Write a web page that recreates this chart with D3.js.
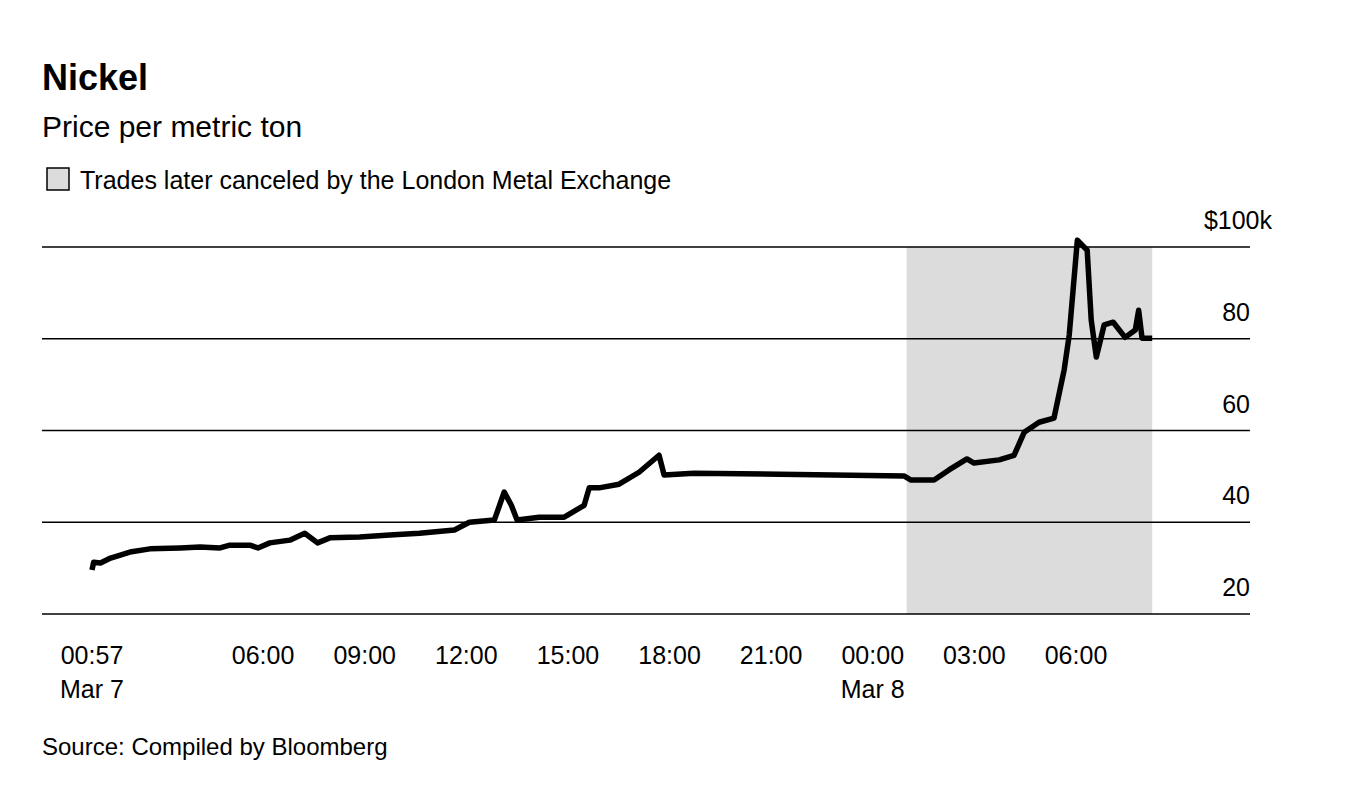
<!DOCTYPE html>
<html><head><meta charset="utf-8">
<script src="https://cdn.jsdelivr.net/npm/d3@7"></script>
<style>body{margin:0;background:#fff;font-family:"Liberation Sans",Arial,sans-serif}</style>
</head><body><svg id="c" width="1350" height="796"></svg>
<script>
// hours since Mar 7 00:00, price in $k
const hours=[0.95,1.0,1.2,1.5,2.07,2.66,3.55,4.14,4.73,5.02,5.61,5.85,6.2,6.79,7.23,7.61,7.97,8.85,9.74,10.62,11.65,12.09,12.83,13.12,13.33,13.5,14.15,14.89,15.48,15.63,15.92,16.51,17.1,17.69,17.84,18.72,24.92,25.13,25.81,26.25,26.78,26.99,27.73,28.17,28.47,28.91,29.35,29.65,29.8,30.04,30.33,30.45,30.6,30.83,31.1,31.45,31.75,31.85,31.95,32.05,32.25];
const prices=[29.6,31.3,31.1,32.2,33.5,34.2,34.4,34.6,34.4,35.0,35.0,34.4,35.5,36.1,37.6,35.5,36.6,36.8,37.2,37.6,38.3,40.0,40.5,46.6,43.7,40.5,41.1,41.1,43.7,47.5,47.5,48.3,50.9,54.6,50.3,50.7,50.1,49.2,49.2,51.4,53.8,52.9,53.6,54.6,59.6,61.8,62.7,73.2,80.8,101.5,99.3,84.0,76.0,83.0,83.6,80.3,81.9,86.2,80.1,80.1,80.1];
const yTicks=[20,40,60,80,100];
const xTicks=[[0.95,"00:57","Mar 7"],[6,"06:00",""],[9,"09:00",""],[12,"12:00",""],[15,"15:00",""],[18,"18:00",""],[21,"21:00",""],[24,"00:00","Mar 8"],[27,"03:00",""],[30,"06:00",""]];
const cancelStart=25.0, cancelEnd=32.25;

const svg=d3.select("#c");
const x=d3.scaleLinear().domain([0.95,30]).range([92,1076]);
const y=d3.scaleLinear().domain([20,100]).range([614,247]);

svg.append("text").attr("x",42).attr("y",90).attr("font-size",36).attr("font-weight",700).text("Nickel");
svg.append("text").attr("x",42).attr("y",137).attr("font-size",30).text("Price per metric ton");
svg.append("rect").attr("x",47).attr("y",168).attr("width",22).attr("height",22).attr("fill","#dcdcdc").attr("stroke","#000").attr("stroke-width",1.5);
svg.append("text").attr("x",80).attr("y",189).attr("font-size",25).text("Trades later canceled by the London Metal Exchange");

svg.append("rect").attr("x",x(cancelStart)).attr("y",y(100)).attr("width",x(cancelEnd)-x(cancelStart)).attr("height",y(20)-y(100)).attr("fill","#dcdcdc");

yTicks.forEach(v=>{
  svg.append("line").attr("x1",42).attr("x2",1250).attr("y1",y(v)).attr("y2",y(v)).attr("stroke","#000").attr("stroke-width",1.5);
  svg.append("text").attr("x",v===100?1272:1250).attr("y",y(v)-18).attr("text-anchor","end").attr("font-size",25).text(v===100?"$100k":v);
});
xTicks.forEach(t=>{
  svg.append("text").attr("x",x(t[0])).attr("y",664).attr("text-anchor","middle").attr("font-size",25).text(t[1]);
  if(t[2]) svg.append("text").attr("x",x(t[0])).attr("y",698).attr("text-anchor","middle").attr("font-size",25).text(t[2]);
});

const data=hours.map((h,i)=>[h,prices[i]]);
svg.append("path").datum(data).attr("fill","none").attr("stroke","#000").attr("stroke-width",5.5).attr("stroke-linejoin","round")
  .attr("d",d3.line().x(d=>x(d[0])).y(d=>y(d[1])));

svg.append("text").attr("x",42).attr("y",755).attr("font-size",24).text("Source: Compiled by Bloomberg");
</script></body></html>
